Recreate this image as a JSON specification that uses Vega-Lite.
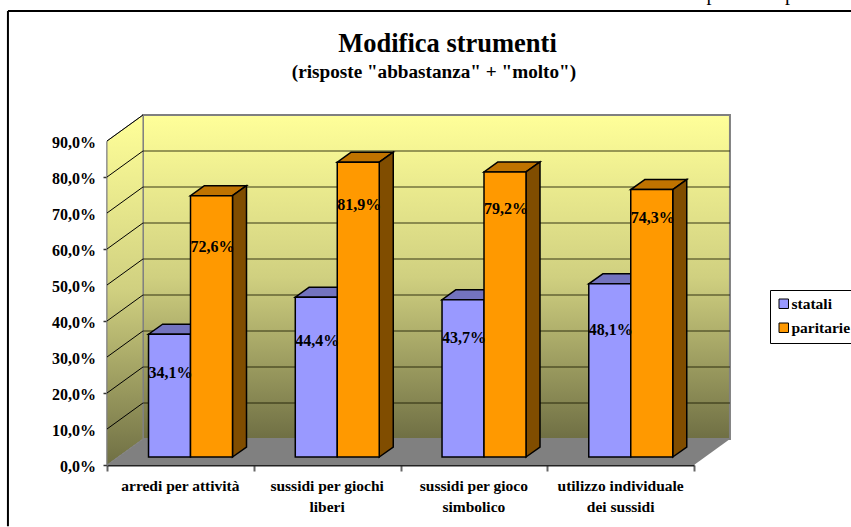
{
"$schema":"https://vega.github.io/schema/vega-lite/v6.json",
"width":587,"height":324,
"autosize":{"type":"none"},
"padding":{"left":107,"top":141,"right":157,"bottom":62},
"background":"white",
"title":{"text":"Modifica strumenti","font":"Liberation Serif","fontSize":26.5,"fontWeight":"bold","color":"#000","anchor":"middle","dx":47,"offset":-74},
"config":{"view":{"stroke":null},"text":{"font":"Liberation Serif","fontSize":16,"fontWeight":"bold","color":"#000"}},
"datasets":{"griglia":[{"v":0},{"v":10},{"v":20},{"v":30},{"v":40},{"v":50},{"v":60},{"v":70},{"v":80},{"v":90}],
"uno":[{"n":1}]},
"data":{"values":[
{"categoria":"arredi per attività","serie":"statali","valore":34.1},
{"categoria":"arredi per attività","serie":"paritarie","valore":72.6},
{"categoria":"sussidi per giochi liberi","serie":"statali","valore":44.4},
{"categoria":"sussidi per giochi liberi","serie":"paritarie","valore":81.9},
{"categoria":"sussidi per gioco simbolico","serie":"statali","valore":43.7},
{"categoria":"sussidi per gioco simbolico","serie":"paritarie","valore":79.2},
{"categoria":"utilizzo individuale dei sussidi","serie":"statali","valore":48.1},
{"categoria":"utilizzo individuale dei sussidi","serie":"paritarie","valore":74.3}
]},
"transform":[
{"calculate":"indexof(['arredi per attività','sussidi per giochi liberi','sussidi per gioco simbolico','utilizzo individuale dei sussidi'],datum.categoria)+(datum.serie=='statali'?0.283:0.569)","as":"c0"},
{"calculate":"datum.c0+0.2862","as":"c1"},
{"calculate":"datum.c0+0.15","as":"cx"},
{"calculate":"datum.valore+2.22","as":"vt"},
{"calculate":"2.22","as":"vb"},
{"calculate":"datum.categoria+datum.serie","as":"id"},
{"calculate":"replace(format(datum.valore,'.1f'),'.',',')+'%'","as":"etichetta"}
],
"resolve":{"scale":{"x":"independent"},"axis":{"x":"independent"}},
"layer":[
{"layer":[
{"data":{"name":"uno"},"mark":{"type":"rect","fill":{"gradient":"linear","x1":0,"y1":0,"x2":0,"y2":1,"stops":[{"offset":0,"color":"#ffff99"},{"offset":0.5,"color":"#d0d080"},{"offset":1,"color":"#6f6f44"}]},"stroke":"#808080","strokeWidth":2,"clip":false},
"encoding":{"x":{"datum":0.245,"type":"quantitative","scale":{"domain":[0,4],"nice":false,"zero":false},"axis":{"values":[0,1,2,3,4],"title":null,"labels":false,"grid":false,"domainColor":"#222","domainWidth":2,"tickColor":"#666","tickSize":6,"tickWidth":2}},"x2":{"datum":4.245},
"y":{"datum":7.22,"type":"quantitative","scale":{"domain":[0,90],"nice":false,"zero":true},"axis":{"values":[0,10,20,30,40,50,60,70,80,90],"title":null,"grid":false,"labels":false,"domainColor":"#666","domainWidth":2,"tickColor":"#333","tickSize":4,"tickWidth":1.5}},"y2":{"datum":97.22}}},
{"data":{"values":[{"p":0,"lo":0,"hi":90},{"p":0.245,"lo":7.22,"hi":97.22}]},
"mark":{"type":"area","color":{"gradient":"linear","x1":0,"y1":0,"x2":0,"y2":1,"stops":[{"offset":0,"color":"#ffff99"},{"offset":0.5,"color":"#d0d080"},{"offset":1,"color":"#6f6f44"}]},"stroke":"#808080","strokeWidth":1},
"encoding":{"x":{"field":"p","type":"quantitative"},"y":{"field":"lo","type":"quantitative","stack":null},"y2":{"field":"hi"}}},
{"data":{"values":[{"d":0,"a":0,"b":4},{"d":7.22,"a":0.245,"b":4.245}]},
"mark":{"type":"area","orient":"horizontal","color":"#808080"},
"encoding":{"y":{"field":"d","type":"quantitative"},"x":{"field":"a","type":"quantitative","stack":null},"x2":{"field":"b"}}},
{"data":{"name":"griglia"},"transform":[{"filter":"datum.v>0&&datum.v<90"},{"calculate":"datum.v+7.22","as":"dietro"}],
"mark":{"type":"rule","color":"#1a1a00","strokeWidth":1.2,"opacity":0.85},
"encoding":{"x":{"datum":0.245,"type":"quantitative"},"x2":{"datum":4.245},"y":{"field":"dietro","type":"quantitative"}}},
{"data":{"name":"griglia"},"transform":[{"filter":"datum.v>0"},{"calculate":"datum.v+7.22","as":"dietro"}],
"mark":{"type":"rule","color":"#000","strokeWidth":1},
"encoding":{"x":{"datum":0,"type":"quantitative"},"x2":{"datum":0.245},"y":{"field":"v","type":"quantitative"},"y2":{"field":"dietro"}}},
{"data":{"name":"griglia"},"transform":[{"calculate":"replace(format(datum.v,'.1f'),'.',',')+'%'","as":"tacca"}],
"mark":{"type":"text","align":"right","baseline":"middle","xOffset":-11,"yOffset":1.5},
"encoding":{"x":{"datum":0,"type":"quantitative"},"y":{"field":"v","type":"quantitative"},"text":{"field":"tacca","type":"nominal"}}},

{"transform":[{"calculate":"[0,1]","as":"f"},{"flatten":["f"]},{"filter":"datum.serie=='statali'"},{"calculate":"datum.vt+datum.f*2.78","as":"ty"},{"calculate":"datum.c0+datum.f*0.0954","as":"xa"},{"calculate":"datum.c1+datum.f*0.0954","as":"xb"}],
"mark":{"type":"area","orient":"horizontal","color":"#7373bf","stroke":"#000","strokeWidth":1.5},
"encoding":{"detail":{"field":"id","type":"nominal"},"y":{"field":"ty","type":"quantitative"},"x":{"field":"xa","type":"quantitative","stack":null},"x2":{"field":"xb"}}},
{"transform":[{"calculate":"[0,1]","as":"f"},{"flatten":["f"]},{"filter":"datum.serie=='paritarie'"},{"calculate":"datum.vt+datum.f*2.78","as":"ty"},{"calculate":"datum.c0+datum.f*0.0954","as":"xa"},{"calculate":"datum.c1+datum.f*0.0954","as":"xb"}],
"mark":{"type":"area","orient":"horizontal","color":"#bf7300","stroke":"#000","strokeWidth":1.5},
"encoding":{"detail":{"field":"id","type":"nominal"},"y":{"field":"ty","type":"quantitative"},"x":{"field":"xa","type":"quantitative","stack":null},"x2":{"field":"xb"}}},
{"transform":[{"calculate":"[0,1]","as":"f"},{"flatten":["f"]},{"filter":"datum.serie=='paritarie'"},{"calculate":"datum.vt+datum.f*2.78","as":"ty"},{"calculate":"datum.vb+datum.f*2.78","as":"by"},{"calculate":"datum.c1+datum.f*0.0954","as":"xb"}],
"mark":{"type":"area","color":"#804d00","stroke":"#000","strokeWidth":1.5},
"encoding":{"detail":{"field":"id","type":"nominal"},"x":{"field":"xb","type":"quantitative"},"y":{"field":"by","type":"quantitative","stack":null},"y2":{"field":"ty"}}},
{"mark":{"type":"rect","stroke":"#000","strokeWidth":1.5},
"encoding":{"x":{"field":"c0","type":"quantitative"},"x2":{"field":"c1"},"y":{"field":"vb","type":"quantitative"},"y2":{"field":"vt"},
"color":{"field":"serie","type":"nominal","title":null,"scale":{"domain":["statali","paritarie"],"range":["#9999ff","#ff9900"]},
"legend":{"orient":"none","legendX":663,"legendY":149,"strokeColor":"#000","fillColor":"#fff","padding":6,"symbolType":"square","symbolSize":90,"symbolStrokeColor":"#000","symbolStrokeWidth":1,"labelFont":"Liberation Serif","labelFontSize":15.5,"labelFontWeight":"bold","labelColor":"#000","rowPadding":7,"labelOffset":0}}}},

{"transform":[{"filter":"datum.valore==34.1"}],"mark":{"type":"text","yOffset":39},"encoding":{"x":{"field":"cx","type":"quantitative"},"y":{"field":"vt","type":"quantitative"},"text":{"field":"etichetta","type":"nominal"}}},
{"transform":[{"filter":"datum.valore==72.6"}],"mark":{"type":"text","yOffset":51},"encoding":{"x":{"field":"cx","type":"quantitative"},"y":{"field":"vt","type":"quantitative"},"text":{"field":"etichetta","type":"nominal"}}},
{"transform":[{"filter":"datum.valore==44.4"}],"mark":{"type":"text","yOffset":44},"encoding":{"x":{"field":"cx","type":"quantitative"},"y":{"field":"vt","type":"quantitative"},"text":{"field":"etichetta","type":"nominal"}}},
{"transform":[{"filter":"datum.valore==81.9"}],"mark":{"type":"text","yOffset":43},"encoding":{"x":{"field":"cx","type":"quantitative"},"y":{"field":"vt","type":"quantitative"},"text":{"field":"etichetta","type":"nominal"}}},
{"transform":[{"filter":"datum.valore==43.7"}],"mark":{"type":"text","yOffset":38},"encoding":{"x":{"field":"cx","type":"quantitative"},"y":{"field":"vt","type":"quantitative"},"text":{"field":"etichetta","type":"nominal"}}},
{"transform":[{"filter":"datum.valore==79.2"}],"mark":{"type":"text","yOffset":37},"encoding":{"x":{"field":"cx","type":"quantitative"},"y":{"field":"vt","type":"quantitative"},"text":{"field":"etichetta","type":"nominal"}}},
{"transform":[{"filter":"datum.valore==48.1"}],"mark":{"type":"text","yOffset":46},"encoding":{"x":{"field":"cx","type":"quantitative"},"y":{"field":"vt","type":"quantitative"},"text":{"field":"etichetta","type":"nominal"}}},
{"transform":[{"filter":"datum.valore==74.3"}],"mark":{"type":"text","yOffset":28},"encoding":{"x":{"field":"cx","type":"quantitative"},"y":{"field":"vt","type":"quantitative"},"text":{"field":"etichetta","type":"nominal"}}},

{"data":{"name":"uno"},"mark":{"type":"text","fontSize":19.2,"baseline":"middle"},"encoding":{"x":{"datum":2.228,"type":"quantitative"},"y":{"datum":109.2,"type":"quantitative"},"text":{"value":"(risposte \"abbastanza\" + \"molto\")"}}},
{"data":{"name":"uno"},"mark":{"type":"rule","color":"#000","strokeWidth":2},"encoding":{"x":{"datum":-0.675,"type":"quantitative"},"x2":{"datum":5.07},"y":{"datum":126.1,"type":"quantitative"}}},
{"data":{"name":"uno"},"mark":{"type":"rule","color":"#000","strokeWidth":2},"encoding":{"x":{"datum":-0.675,"type":"quantitative"},"y":{"datum":-17,"type":"quantitative"},"y2":{"datum":126.1}}},
{"data":{"name":"uno"},"mark":{"type":"text","font":"Liberation Serif","fontSize":20,"fontWeight":"normal","baseline":"alphabetic"},"encoding":{"x":{"datum":4.12,"type":"quantitative"},"y":{"datum":129.2,"type":"quantitative"},"text":{"value":"p"}}},
{"data":{"name":"uno"},"mark":{"type":"text","font":"Liberation Serif","fontSize":20,"fontWeight":"normal","baseline":"alphabetic"},"encoding":{"x":{"datum":4.655,"type":"quantitative"},"y":{"datum":129.2,"type":"quantitative"},"text":{"value":"p"}}}
]},
{"mark":{"type":"bar","opacity":0},
"encoding":{"x":{"field":"categoria","type":"nominal","sort":null,"scale":{"paddingInner":0,"paddingOuter":0},
"axis":{"title":null,"orient":"bottom","domain":false,"ticks":false,"labelAngle":0,"labelLimit":200,"labelPadding":13,"labelFont":"Liberation Serif","labelFontSize":15.5,"labelFontWeight":"bold","labelColor":"#000","labelLineHeight":21,
"labelExpr":"split(replace(replace(replace(datum.label,'giochi liberi','giochi|liberi'),'gioco simbolico','gioco|simbolico'),'individuale dei','individuale|dei'),'|')"}}}}
]
}
